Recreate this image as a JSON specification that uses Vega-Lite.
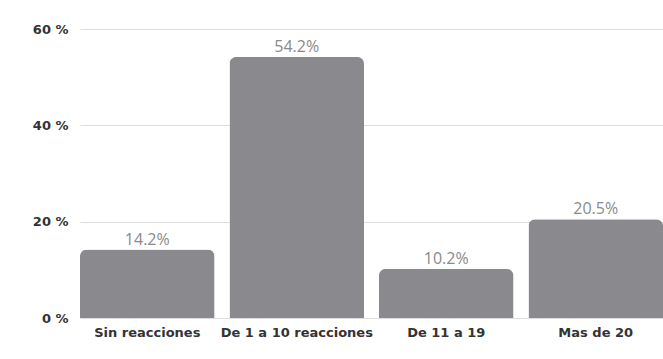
{
  "$schema": "https://vega.github.io/schema/vega-lite/v6.json",
  "autosize": "none",
  "width": 583,
  "height": 289,
  "padding": {"left": 80, "top": 29, "right": 0, "bottom": 41},
  "background": "white",
  "config": {"view": {"stroke": null}, "font": "Open Sans"},
  "data": {"values": [
    {"cat": "Sin reacciones", "pct": 14.2, "label": "14.2%"},
    {"cat": "De 1 a 10 reacciones", "pct": 54.2, "label": "54.2%"},
    {"cat": "De 11 a 19", "pct": 10.2, "label": "10.2%"},
    {"cat": "Mas de 20", "pct": 20.5, "label": "20.5%"}
  ]},
  "encoding": {
    "x": {"field": "cat", "type": "nominal", "sort": null,
      "scale": {"paddingInner": 0.1, "paddingOuter": 0},
      "axis": {"title": null, "labelAngle": 0, "domain": false, "ticks": false, "labelPadding": 8,
        "labelFont": "DejaVu Sans", "labelFontWeight": "bold", "labelFontSize": 13, "labelColor": "#333"}},
    "y": {"field": "pct", "type": "quantitative",
      "scale": {"domain": [0, 60], "nice": false},
      "axis": {"title": null, "values": [0, 20, 40, 60], "labelExpr": "datum.value + ' %'",
        "domain": false, "ticks": false, "labelPadding": 12, "gridColor": "#dddddd",
        "labelFont": "DejaVu Sans", "labelFontWeight": "bold", "labelFontSize": 13, "labelColor": "#333"}}
  },
  "layer": [
    {"mark": {"type": "bar", "color": "#8a8a8e", "cornerRadiusTopLeft": 7, "cornerRadiusTopRight": 7}},
    {"mark": {"type": "text", "baseline": "bottom", "dy": -2, "fontSize": 16, "color": "#8a8a8a", "font": "Open Sans"},
     "encoding": {"text": {"field": "label"}}}
  ]
}
